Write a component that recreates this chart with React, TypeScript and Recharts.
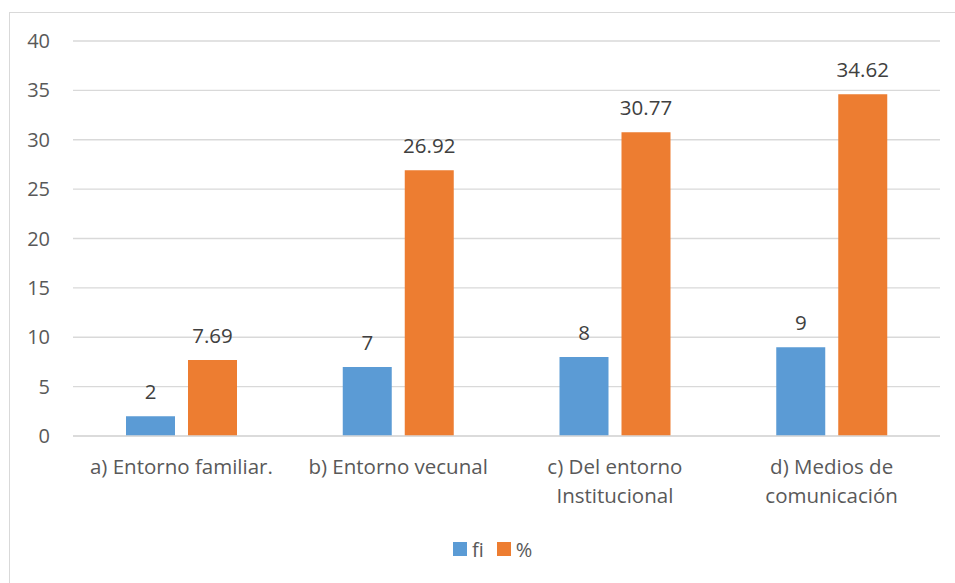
import React from "react";
import { BarChart, Bar, XAxis, YAxis, CartesianGrid, Legend, LabelList } from "recharts";

const categories = [
  "a) Entorno familiar.",
  "b) Entorno vecunal",
  "c) Del entorno Institucional",
  "d) Medios de comunicación",
];
const fiValues = [2, 7, 8, 9];
const pctValues = [7.69, 26.92, 30.77, 34.62];
const yTicks = [0, 5, 10, 15, 20, 25, 30, 35, 40];

const data = categories.map((c, i) => ({ name: c, fi: fiValues[i], pct: pctValues[i] }));

const FONT = "'Open Sans', sans-serif";
const BLUE = "#5B9BD5";
const ORANGE = "#ED7D31";

function wrap(text: string, maxChars: number): string[] {
  const words = text.split(" ");
  const lines: string[] = [];
  let cur = "";
  for (const w of words) {
    const next = cur ? cur + " " + w : w;
    if (next.length > maxChars && cur) {
      lines.push(cur);
      cur = w;
    } else {
      cur = next;
    }
  }
  if (cur) lines.push(cur);
  return lines;
}

const XTick = (props: any) => {
  const { x, y, payload } = props;
  const lines = wrap(payload.value, 21);
  return (
    <text x={x} y={y} textAnchor="middle" fill="#595959" fontSize={20.5} fontFamily={FONT}>
      {lines.map((l, i) => (
        <tspan key={i} x={x} dy={i === 0 ? 30 : 29}>
          {l}
        </tspan>
      ))}
    </text>
  );
};

const LegendContent = () => (
  <div style={{ display: "flex", alignItems: "center", paddingLeft: 453, fontFamily: FONT, fontSize: 20, color: "#595959", height: 24 }}>
    <span style={{ display: "inline-block", width: 14, height: 14, background: BLUE, marginRight: 5 }} />
    <span style={{ marginRight: 13 }}>fi</span>
    <span style={{ display: "inline-block", width: 14, height: 14, background: ORANGE, marginRight: 5 }} />
    <span>%</span>
  </div>
);

export default function App() {
  return (
    <div style={{ position: "absolute", left: 0, top: 0, width: 955, height: 583, background: "#fff" }}>
      <div
        style={{
          position: "absolute",
          left: 9,
          top: 12,
          width: 946,
          height: 571,
          borderLeft: "1px solid #d9d9d9",
          borderTop: "1px solid #d9d9d9",
          boxSizing: "border-box",
        }}
      />
      <BarChart
        width={955}
        height={583}
        data={data}
        margin={{ top: 41, right: 15, bottom: 22, left: 0 }}
        barCategoryGap={53}
        barGap={13}
      >
        <CartesianGrid vertical={false} stroke="#d9d9d9" strokeWidth={1.3} />
        <XAxis
          dataKey="name"
          tick={<XTick />}
          tickLine={false}
          axisLine={{ stroke: "#d9d9d9", strokeWidth: 1.3 }}
          height={101}
          interval={0}
        />
        <YAxis
          domain={[0, 40]}
          ticks={yTicks}
          width={73}
          axisLine={false}
          tickLine={false}
          tickSize={0}
          tickMargin={23}
          tick={{ fill: "#595959", fontSize: 20, fontFamily: FONT }}
        />
        <Legend verticalAlign="bottom" height={24} content={<LegendContent />} />
        <Bar dataKey="fi" name="fi" fill={BLUE} isAnimationActive={false}>
          <LabelList dataKey="fi" position="top" offset={17} fill="#404040" fontSize={20.5} fontFamily={FONT} />
        </Bar>
        <Bar dataKey="pct" name="%" fill={ORANGE} isAnimationActive={false}>
          <LabelList dataKey="pct" position="top" offset={17} fill="#404040" fontSize={20.5} fontFamily={FONT} />
        </Bar>
      </BarChart>
    </div>
  );
}
